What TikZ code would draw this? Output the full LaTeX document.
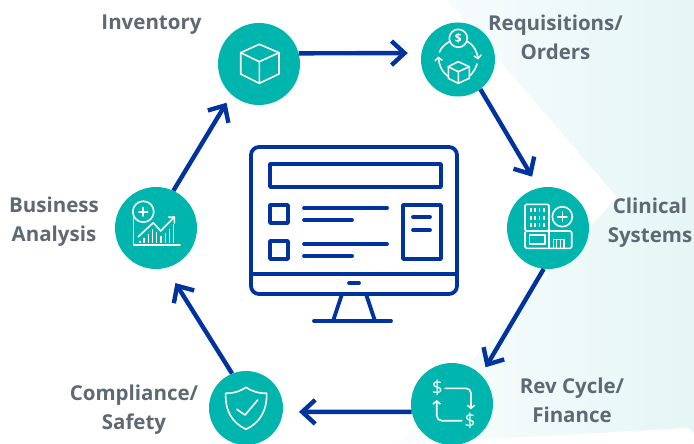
\documentclass[tikz,border=0pt]{standalone}
\usepackage{fontspec}
\setmainfont{Open Sans}
\usetikzlibrary{arrows.meta}
\definecolor{hubteal}{HTML}{00B5AD}
\definecolor{navy}{HTML}{00339E}
\definecolor{labgray}{HTML}{5F6973}
\definecolor{bgleft}{HTML}{FAFDFE}
\definecolor{bgmid}{HTML}{F2FAFB}
\definecolor{bgright}{HTML}{E5F6F5}
\tikzset{
  hub/.style={circle,fill=hubteal,draw=none,inner sep=0pt,minimum size=82pt},
  hubsmall/.style={hub,minimum size=74pt},
  conn/.style={draw=navy,line width=4.4pt,-{Straight Barb[length=13pt,width=24pt,line width=4.4pt]}},
  lab/.style={text=labgray,font=\bfseries\fontsize{20.5}{28.5}\selectfont,align=center,inner sep=0pt},
  ico/.style={draw=white,line width=1.6pt,line join=round,line cap=round},
  icoarrow/.style={ico,-{Straight Barb[length=3.2pt,width=7.5pt,line width=1.5pt]}},
  mon/.style={draw=navy,line width=3.8pt,line join=round,line cap=round},
  dollar/.style={text=white,inner sep=0pt,font=\fontsize{#1}{#1}\selectfont}
}
\begin{document}
\begin{tikzpicture}[x=1pt,y=-1pt]
\useasboundingbox (0,0) rectangle (694,444);
\clip (0,0) rectangle (694,444);
% background
\shade[left color=bgleft,middle color=bgmid,right color=bgright]
  (447,0) -- (694,0) -- (694,436) arc[start angle=0,end angle=-90,radius=8] -- (398,444) -- (617,197) -- cycle;

% hubs
\node[hub] (inv) at (259,64) {};
\node[hubsmall] (req) at (458,59.5) {};
\node[hub] (cli) at (548,228) {};
\node[hub] (rev) at (452,404) {};
\node[hubsmall] (com) at (246,408) {};
\node[hub] (bus) at (156,228) {};

% connectors
\draw[conn,shorten >=13.6pt] (inv.15.6) -- (req.170);
\draw[conn,shorten >=13pt] (req.-53.3) -- (cli.103.3);
\draw[conn,shorten >=8.8pt] (cli.-96.8) -- (rev.45.9);
\draw[conn,shorten >=16pt] (rev.191) -- (com.-6.2);
\draw[conn,shorten >=17.8pt] (com.112.4) -- (bus.-76.6);
\draw[conn,shorten >=9.5pt] (bus.65.9) -- (inv.228.9);

% labels
\node[lab] (lInv) at (151.5,24.5) {Inventory};
\node[lab] (lReq) at (555.5,37.5) {Requisitions/\\Orders};
\node[lab] (lCli) at (650,222.5) {Clinical\\Systems};
\node[lab] (lRev) at (572,400.5) {Rev Cycle/\\Finance};
\node[lab] (lCom) at (134,409.5) {Compliance/\\Safety};
\node[lab] (lBus) at (54,221.5) {Business\\Analysis};

% monitor
\draw[mon,rounded corners=8pt] (251,147) rectangle (457,294);
\draw[mon] (251,274) -- (457,274);
\draw[mon] (349,283) -- (359,283);
\draw[mon] (342,294) -- (333,321);
\draw[mon] (366,294) -- (375,321);
\draw[mon] (314,321) -- (391,321);
\draw[mon] (270,164) rectangle (441,187);
\draw[mon] (270,205) rectangle (288,223);
\draw[mon] (270,241) rectangle (288,259);
\draw[mon] (304,208) -- (387,208);
\draw[mon] (304,220) -- (352,220);
\draw[mon] (304,244) -- (387,244);
\draw[mon] (304,256) -- (352,256);
\draw[mon] (403,205) rectangle (441,259);
\draw[mon] (413,217) -- (430,217);
\draw[mon] (413,230) -- (430,230);

% cube icon
\draw[ico] (259.3,44.3) -- (279,52.7) -- (279,74) -- (259.3,83.3) -- (240.7,74) -- (240.7,52.7) -- cycle;
\draw[ico] (240.7,52.7) -- (259.3,61.7) -- (279,52.7) (259.3,61.7) -- (259.3,83.3);

% requisitions icon
\draw[ico] (458.3,38.3) circle[radius=9];
\node[dollar=12,font=\bfseries\fontsize{12}{12}\selectfont] (rd) at (458.3,38.3) {\$};
\draw[ico] (458.3,61.7) -- (469.3,66.7) -- (469.3,78.3) -- (458.3,83.3) -- (448.3,78.3) -- (448.3,66.7) -- cycle;
\draw[ico] (448.3,66.7) -- (458.3,71.7) -- (469.3,66.7) (458.3,71.7) -- (458.3,83.3);
\draw[icoarrow] (467.7,41.7) .. controls (474,45) and (477,52) .. (478.3,59.5);
\draw[ico] (449.3,41.7) .. controls (445,44) and (441,48) .. (439.5,52);
\draw[icoarrow] (447.5,76) .. controls (442,72) and (439,65) .. (438.3,56.5);
\draw[ico] (469.5,76) .. controls (473,73) and (476,68) .. (477,64);

% clinical icon
\draw[ico,rounded corners=1.5pt] (525,204.3) rectangle (549,231);
\draw[ico,rounded corners=1.5pt] (525,231) rectangle (571.7,248.3);
\draw[ico] (549,231) -- (549,248.3);
\draw[ico] (529.3,235) rectangle (545,244);
\draw[ico] (553.3,239.3) rectangle (564,248.3);
\draw[ico,line width=1pt] (556.8,240) -- (556.8,248) (560.3,240) -- (560.3,248);
\foreach \wx in {530.7,535,539.3,544}
  \foreach \wy in {208.3,216,223.3}
    \draw[draw=white,line width=1.6pt] (\wx,\wy) -- (\wx,\wy+4);
\draw[ico] (562.3,216.7) circle[radius=10];
\draw[ico] (562.3,212) -- (562.3,221.4) (557.6,216.7) -- (567,216.7);

% rev cycle icon
\node[dollar=19] (rd1) at (437.3,388.3) {\$};
\node[dollar=19] (rd2) at (470,420.7) {\$};
\draw[icoarrow,rounded corners=5pt] (445,388.3) -- (471,388.3) -- (471,409.3);
\draw[icoarrow,rounded corners=5pt] (461.7,420.7) -- (436.7,420.7) -- (436.7,400);

% shield icon
\draw[ico] (246,387.3) .. controls (239,392) and (232,393.5) .. (225.7,393.3)
  .. controls (225,412) and (233,423) .. (246,429.3)
  .. controls (259,423) and (267,412) .. (266.7,393.3)
  .. controls (260,393.5) and (253,392) .. (246,387.3) -- cycle;
\draw[ico] (236.7,409.3) -- (245,415) -- (257.7,400);

% business icon
\draw[ico] (143.3,211.7) circle[radius=10.5];
\draw[ico,line width=1.8pt] (143.3,207.5) -- (143.3,216) (139,211.7) -- (147.6,211.7);
\draw[ico] (133.3,212) -- (133.3,245) -- (180,245);
\draw[ico] (138.3,236.7) -- (153.3,222.7) -- (160.7,231) -- (174,217.3);
\draw[ico] (168.5,217.3) -- (174.3,217) -- (174.3,223);
\foreach \bx/\by in {140/240.5,144/237.5,148.3/234,152.7/229,156.7/232,161/236,165.3/233,169.3/229,173.3/224}
  \draw[draw=white,line width=1.5pt] (\bx,\by) -- (\bx,242.5);
\end{tikzpicture}
\end{document}
